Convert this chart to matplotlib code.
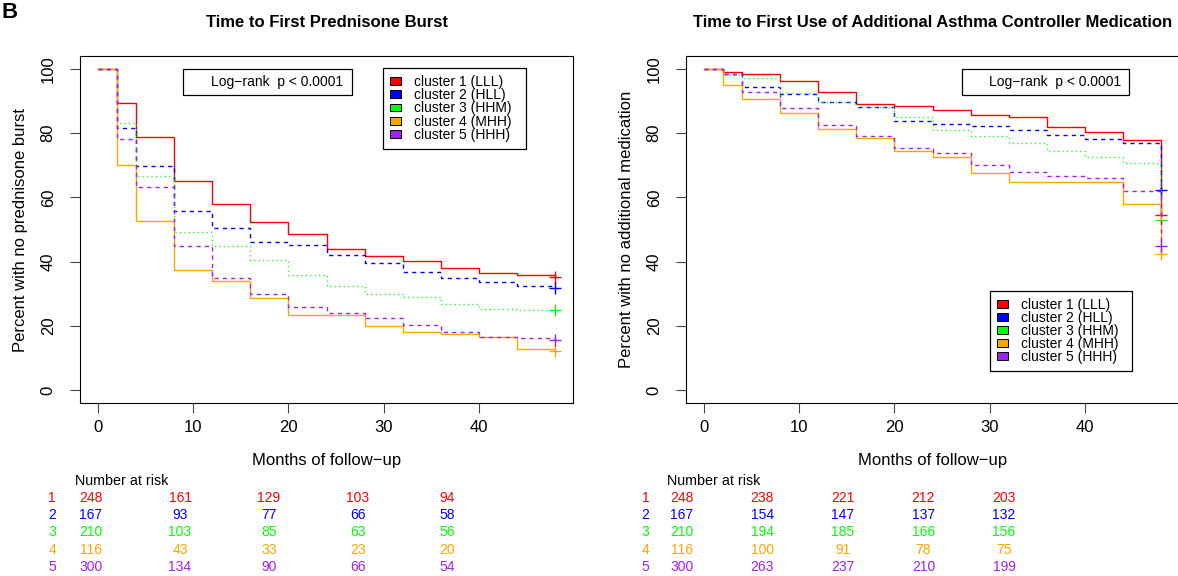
import matplotlib
matplotlib.use('Agg')
import matplotlib.pyplot as plt
from matplotlib.patches import Patch, Rectangle

plt.rcParams['font.family'] = ['Liberation Sans', 'DejaVu Sans']
plt.rcParams['font.size'] = 10

# ---------------- data ----------------
months = [0, 2, 4, 8, 12, 16, 20, 24, 28, 32, 36, 40, 44, 48]
cluster_labels = ['cluster 1 (LLL)', 'cluster 2 (HLL)', 'cluster 3 (HHM)',
                  'cluster 4 (MHH)', 'cluster 5 (HHH)']
cluster_ids = ['1', '2', '3', '4', '5']
colors = ['#FF0000', '#0000FF', '#00FF00', '#FFA500', '#A020F0']
linestyles = ['-', (0, (3, 3)), (0, (0.8, 2.4)), '-', (0, (3, 3))]

# Panel 1: time to first prednisone burst (% with no burst)
pred_c1 = [100, 89.3, 78.8, 65.0, 57.9, 52.2, 48.7, 44.0, 41.7, 40.1, 38.0, 36.4, 35.9, 35.1]
pred_c2 = [100, 81.6, 69.7, 55.8, 50.4, 46.2, 45.1, 42.0, 39.7, 36.7, 34.9, 33.6, 32.4, 31.9]
pred_c3 = [100, 83.1, 66.8, 49.2, 44.9, 40.6, 35.8, 32.5, 30.0, 29.1, 26.7, 25.4, 24.8, 24.8]
pred_c4 = [100, 70.0, 52.7, 37.3, 33.9, 28.6, 23.4, 23.4, 20.0, 18.2, 17.4, 16.6, 12.9, 12.1]
pred_c5 = [100, 78.2, 63.3, 44.8, 34.8, 30.0, 25.8, 24.1, 22.3, 20.2, 18.2, 16.6, 16.1, 15.5]

# Panel 2: time to first use of additional controller medication
med_c1 = [100, 98.9, 98.4, 96.1, 92.9, 89.2, 88.4, 87.2, 85.6, 84.9, 81.9, 80.4, 77.9, 54.4]
med_c2 = [100, 98.4, 94.2, 92.3, 89.8, 88.2, 83.9, 82.7, 82.2, 81.1, 79.3, 78.1, 76.8, 62.3]
med_c3 = [100, 98.0, 97.3, 92.4, 89.8, 88.2, 84.9, 81.1, 79.2, 76.9, 74.5, 72.5, 70.6, 53.0]
med_c4 = [100, 95.0, 90.7, 86.3, 81.2, 78.5, 74.3, 72.6, 67.5, 64.8, 64.8, 64.8, 57.9, 42.3]
med_c5 = [100, 98.4, 92.8, 87.8, 82.4, 79.1, 75.4, 73.8, 70.2, 67.8, 66.5, 66.0, 62.1, 45.0]

# Number at risk
risk_times = [0, 10, 20, 30, 40]
pred_risk_c1 = [248, 161, 129, 103, 94]
pred_risk_c2 = [167, 93, 77, 66, 58]
pred_risk_c3 = [210, 103, 85, 63, 56]
pred_risk_c4 = [116, 43, 33, 23, 20]
pred_risk_c5 = [300, 134, 90, 66, 54]
med_risk_c1 = [248, 238, 221, 212, 203]
med_risk_c2 = [167, 154, 147, 137, 132]
med_risk_c3 = [210, 194, 185, 166, 156]
med_risk_c4 = [116, 100, 91, 78, 75]
med_risk_c5 = [300, 263, 237, 210, 199]

xticks = [0, 10, 20, 30, 40]
yticks = [0, 20, 40, 60, 80, 100]
titles = ['Time to First Prednisone Burst',
          'Time to First Use of Additional Asthma Controller Medication']
ylabels = ['Percent with no prednisone burst', 'Percent with no additional medication']
xlabel = 'Months of follow\u2212up'
logrank_text = 'Log\u2212rank  p < 0.0001'

# ---------------- figure ----------------
W, H = 1178, 576
fig = plt.figure(figsize=(W / 100, H / 100), dpi=100)


def px_axes(l, t, r, b):
    return fig.add_axes([l / W, 1 - b / H, (r - l) / W, (b - t) / H])


ax1 = px_axes(80, 56, 573, 403)
ax2 = px_axes(686, 56, 1179, 403)

panels = [
    (ax1, [pred_c1, pred_c2, pred_c3, pred_c4, pred_c5],
     [pred_risk_c1, pred_risk_c2, pred_risk_c3, pred_risk_c4, pred_risk_c5],
     titles[0], ylabels[0],
     (0.209, 0.8876, 0.343, 0.075, 0.5335),   # log-rank box x0,y0,w,h,text right
     (0.615, 0.965, 0.290),                    # legend x, y-top, width
     (91, 447, -4.38, -1.8)),                  # table px left/right, label t, header t
    (ax2, [med_c1, med_c2, med_c3, med_c4, med_c5],
     [med_risk_c1, med_risk_c2, med_risk_c3, med_risk_c4, med_risk_c5],
     titles[1], ylabels[1],
     (0.559, 0.8876, 0.3396, 0.075, 0.8817),
     (0.617, 0.324, 0.288),
     (681.7, 1004, -4.47, -1.86)),
]

for ax, curves, risks, title, ylab, lr, lg, tab in panels:
    for vals, col, ls in zip(curves, colors, linestyles):
        ax.step(months, vals, where='post', color=col, linestyle=ls, lw=1.0)
        ax.plot([months[-1]], [vals[-1]], marker='+', ms=8, mew=1.0, color=col,
                linestyle='none')
    ax.set_xlim(-1.92, 49.92)
    ax.set_ylim(-4, 104)
    ax.set_xticks(xticks)
    ax.set_yticks(yticks)
    ax.tick_params(direction='out', length=7, width=0.8, color='#444444',
                   labelsize=12)
    ax.tick_params(axis='x', pad=5)
    ax.tick_params(axis='y', pad=10.5, labelrotation=90)
    for lab in ax.get_yticklabels():
        lab.set_va('center')
    for s in ax.spines.values():
        s.set_linewidth(0.8)
        s.set_color('black')
    ax.set_title(title, fontsize=12, fontweight='bold', pad=21)
    ax.set_xlabel(xlabel, fontsize=12)
    ax.xaxis.set_label_coords(0.5, -0.1455)
    ax.set_ylabel(ylab, fontsize=12)
    ax.yaxis.set_label_coords(-0.1217, 0.5)
    ax.yaxis.label.set_va('center')

    # log-rank box
    x0, y0, w, h, tr = lr
    ax.add_patch(Rectangle((x0, y0), w, h, transform=ax.transAxes, fill=False,
                           edgecolor='black', lw=0.9))
    ax.text(tr, y0 + h / 2, logrank_text, transform=ax.transAxes, ha='right',
            va='center', fontsize=10)

    # legend
    handles = [Patch(facecolor=c, edgecolor='black', lw=0.7) for c in colors]
    lx, ly, lw_ = lg
    leg = ax.legend(handles, cluster_labels, loc='upper left',
                    bbox_to_anchor=(lx, ly - 0.3, lw_, 0.3), mode='expand',
                    bbox_transform=ax.transAxes, fontsize=10, handlelength=0.8,
                    handleheight=0.5, handletextpad=0.9, borderpad=0.5,
                    labelspacing=-0.06, fancybox=False, framealpha=1,
                    edgecolor='black', borderaxespad=0)
    leg.get_frame().set_linewidth(0.9)

    # number at risk table
    tl, tr_, lab_t, head_t = tab
    axt = px_axes(tl, 470, tr_, 576)
    axt.set_xlim(0, 40)
    axt.set_ylim(5.544, -0.655)
    axt.axis('off')
    axt.text(head_t, 0, 'Number at risk', ha='left', va='center', fontsize=10.3,
             clip_on=False)
    for i, (row, col, cid) in enumerate(zip(risks, colors, cluster_ids), start=1):
        axt.text(lab_t, i, cid, ha='center', va='center', color=col, fontsize=10,
                 clip_on=False)
        for t, n in zip(risk_times, row):
            axt.text(t, i, str(n), ha='center', va='center', color=col,
                     fontsize=10, clip_on=False)

fig.text(0.001, 1 - 18.3 / H, 'B', fontsize=16, fontweight='bold', va='baseline')

fig.savefig('out.png', dpi=100)
